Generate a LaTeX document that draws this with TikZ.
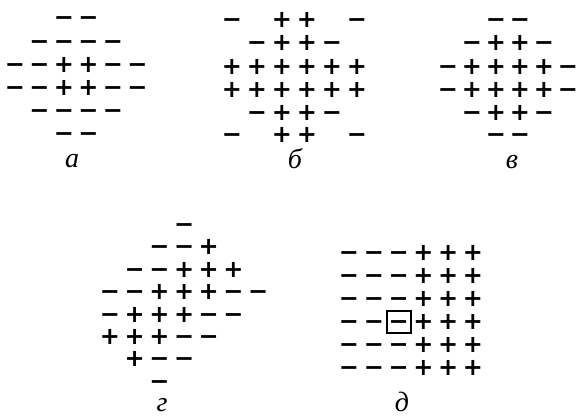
\documentclass[tikz,border=0pt]{standalone}
\usepackage{fontspec}
\newfontfamily\symfont{DejaVu Sans}
\newfontfamily\labfont{Liberation Serif}
\tikzset{
  sym/.style={inner sep=0pt, anchor=center, font=\symfont\bfseries\fontsize{24}{24}\selectfont},
  lab/.style={inner sep=0pt, anchor=base, text height=12pt, text depth=0pt, font=\labfont\itshape\fontsize{28}{28}\selectfont},
  markbox/.style={draw, line width=1.8pt}
}
\newcommand\symrow[6]{%
  \foreach \s [count=\c from 0] in {#6} {
    \if\s p\node[sym] (#1-#5-\c) at ({#2+\c*#3},#4) {\vphantom{+}+};\fi
    \if\s m\node[sym] (#1-#5-\c) at ({#2+\c*#3},#4) {\vphantom{+}−};\fi
  }}
\begin{document}
\begin{tikzpicture}[x=1pt,y=-1pt]
\useasboundingbox (0,0) rectangle (580,417);
% panel a
\symrow{a}{15}{24.5}{18}{0}{o,o,m,m,o,o}
\symrow{a}{15}{24.5}{41.5}{1}{o,m,m,m,m,o}
\symrow{a}{15}{24.5}{65}{2}{m,m,p,p,m,m}
\symrow{a}{15}{24.5}{88}{3}{m,m,p,p,m,m}
\symrow{a}{15}{24.5}{111}{4}{o,m,m,m,m,o}
\symrow{a}{15}{24.5}{134}{5}{o,o,m,m,o,o}
\node[lab] (la) at (72,167) {а};
% panel b
\symrow{b}{232}{25}{20}{0}{m,o,p,p,o,m}
\symrow{b}{232}{25}{43}{1}{o,m,p,p,m,o}
\symrow{b}{232}{25}{67}{2}{p,p,p,p,p,p}
\symrow{b}{232}{25}{90}{3}{p,p,p,p,p,p}
\symrow{b}{232}{25}{113}{4}{o,m,p,p,m,o}
\symrow{b}{232}{25}{135}{5}{m,o,p,p,o,m}
\node[lab] (lb) at (295,168) {б};
% panel v
\symrow{v}{448}{24}{20}{0}{o,o,m,m,o,o}
\symrow{v}{448}{24}{43}{1}{o,m,p,p,m,o}
\symrow{v}{448}{24}{67}{2}{m,p,p,p,p,m}
\symrow{v}{448}{24}{90}{3}{m,p,p,p,p,m}
\symrow{v}{448}{24}{113}{4}{o,m,p,p,m,o}
\symrow{v}{448}{24}{135}{5}{o,o,m,m,o,o}
\node[lab] (lv) at (512,168) {в};
% panel g
\symrow{g}{110}{24.7}{225}{0}{o,o,o,m,o,o,o}
\symrow{g}{110}{24.7}{247.4}{1}{o,o,m,m,p,o,o}
\symrow{g}{110}{24.7}{269.8}{2}{o,m,m,p,p,p,o}
\symrow{g}{110}{24.7}{292.2}{3}{m,m,p,p,p,m,m}
\symrow{g}{110}{24.7}{314.6}{4}{m,p,p,p,m,m,o}
\symrow{g}{110}{24.7}{337}{5}{p,p,p,m,m,o,o}
\symrow{g}{110}{24.7}{359.4}{6}{o,p,m,m,o,o,o}
\symrow{g}{110}{24.7}{381.5}{7}{o,o,m,o,o,o,o}
\node[lab] (lg) at (162,411) {г};
% panel d
\foreach \r in {0,...,5} {
  \symrow{d}{349}{24.8}{253+\r*23}{\r}{m,m,m,p,p,p}
}
\node[markbox, minimum width=24pt, minimum height=22pt, inner sep=0pt] (box) at (d-3-2) {};
\node[lab] (ld) at (402,411) {д};
\end{tikzpicture}
\end{document}
